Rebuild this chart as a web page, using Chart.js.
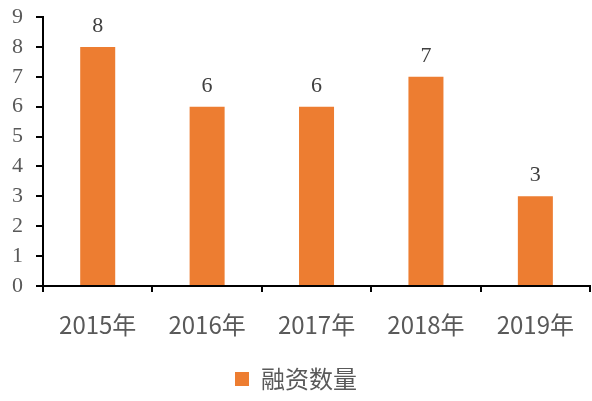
<!DOCTYPE html>
<html>
<head>
<meta charset="utf-8">
<script src="https://cdn.jsdelivr.net/npm/chart.js@4.4.0/dist/chart.umd.min.js"></script>
<style>
  body { margin: 0; background: #fff; }
  #wrap { width: 592px; height: 401px; }
</style>
</head>
<body>
<div id="wrap"><canvas id="financeChart"></canvas></div>
<script>
// 融资数量 2015-2019
const years = ['2015年', '2016年', '2017年', '2018年', '2019年'];
const counts = [8, 6, 6, 7, 3];
const yTicks = [0, 1, 2, 3, 4, 5, 6, 7, 8, 9];

var ctx = document.getElementById('financeChart').getContext('2d');

// etiquetas encima de cada barra
const barLabels = {
    id: 'barLabels',
    afterDatasetsDraw(chart) {
        const c = chart.ctx;
        const meta = chart.getDatasetMeta(0);
        c.save();
        c.font = '22px "Liberation Serif", "Times New Roman", serif';
        c.fillStyle = '#404040';
        c.textAlign = 'center';
        c.textBaseline = 'alphabetic';
        meta.data.forEach((bar, i) => {
            c.fillText(counts[i], bar.x, bar.y - 15);
        });
        c.restore();
    }
};

new Chart(ctx, {
    type: 'bar',
    data: {
        labels: years,
        datasets: [{
            label: '融资数量',
            data: counts,
            backgroundColor: '#ED7D31',
            borderWidth: 0,
            categoryPercentage: 1,
            barPercentage: 0.32
        }]
    },
    options: {
        responsive: true,
        maintainAspectRatio: false,
        animation: false,
        layout: { padding: { top: 17, right: 0, left: 0, bottom: 0 } },
        scales: {
            x: {
                afterFit: (axis) => { axis.height = 75; },
                grid: {
                    offset: true,
                    drawOnChartArea: false,
                    drawTicks: true,
                    tickLength: 6,
                    color: '#000',
                    lineWidth: 2
                },
                border: { color: '#000', width: 2 },
                ticks: {
                    color: '#595959',
                    padding: 18,
                    autoSkip: false,
                    maxRotation: 0,
                    font: { family: '"Noto Sans CJK SC", sans-serif', size: 24 }
                }
            },
            y: {
                min: 0,
                max: 9,
                afterBuildTicks: (axis) => { axis.ticks = yTicks.map(v => ({ value: v })); },
                afterFit: (axis) => {
                    axis.width = 43;
                    axis.paddingTop = 0;
                    axis.paddingBottom = 0;
                },
                grid: {
                    drawOnChartArea: false,
                    drawTicks: true,
                    tickLength: 7,
                    color: '#000',
                    lineWidth: 2
                },
                border: { color: '#000', width: 2 },
                ticks: {
                    color: '#595959',
                    padding: 13,
                    autoSkip: false,
                    font: { family: '"Liberation Serif", "Times New Roman", serif', size: 22 }
                }
            }
        },
        plugins: {
            legend: {
                position: 'bottom',
                labels: {
                    boxWidth: 14,
                    boxHeight: 14,
                    padding: 6,
                    color: '#595959',
                    font: { family: '"Noto Sans CJK SC", sans-serif', size: 24 }
                }
            },
            tooltip: { enabled: false }
        }
    },
    plugins: [barLabels]
});
</script>
</body>
</html>
